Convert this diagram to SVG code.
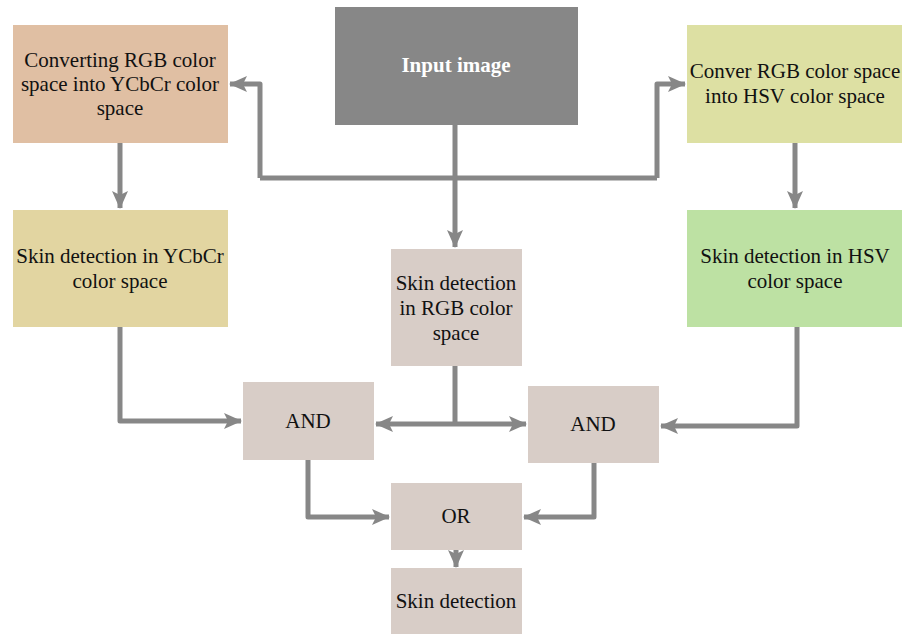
<svg xmlns="http://www.w3.org/2000/svg" width="913" height="634" viewBox="0 0 913 634">
<style>
.t{font-family:'Liberation Serif','Times New Roman','DejaVu Serif',serif;font-size:21px;fill:#111;text-anchor:middle}
.w{fill:#fff;font-weight:bold}
.c{fill:none;stroke:#878787;stroke-width:5;stroke-linejoin:round}
.g{fill:#d8cdc7}
</style>
<defs>
<marker id="a" markerUnits="userSpaceOnUse" markerWidth="18" markerHeight="16" refX="17" refY="8" orient="auto">
<path d="M0,0 L18,8 L0,16 L4,8 Z" fill="#878787"/>
</marker>
</defs>
<rect width="913" height="634" fill="#fff"/>
<g id="connectors">
<path class="c" d="M455,125 V178 M260,178 H657"/>
<path class="c" d="M260,178 V84 H230" marker-end="url(#a)"/>
<path class="c" d="M657,178 V84 H685" marker-end="url(#a)"/>
<path class="c" d="M455,178 V247" marker-end="url(#a)"/>
<path class="c" d="M120,143 V208" marker-end="url(#a)"/>
<path class="c" d="M795,143 V208" marker-end="url(#a)"/>
<path class="c" d="M120,327 V421 H241" marker-end="url(#a)"/>
<path class="c" d="M455,366 V424 M455,424 H376" marker-end="url(#a)"/>
<path class="c" d="M455,424 H526" marker-end="url(#a)"/>
<path class="c" d="M797,327 V426 H661" marker-end="url(#a)"/>
<path class="c" d="M308,460 V517 H389" marker-end="url(#a)"/>
<path class="c" d="M594,463 V517 H524" marker-end="url(#a)"/>
<path class="c" d="M456,550 V567" marker-end="url(#a)"/>
</g>
<g id="n_input"><rect x="335" y="7" width="243" height="118" fill="#878787"/><text class="t w" x="456" y="72">Input image</text></g>
<g id="n_ycbcr_conv"><rect x="13" y="25" width="215" height="118" fill="#e0bfa3"/><text class="t" x="120" y="67">Converting RGB color</text><text class="t" x="120" y="91">space into YCbCr color</text><text class="t" x="120" y="115">space</text></g>
<g id="n_hsv_conv"><rect x="687" y="25" width="215" height="118" fill="#dde0a3"/><text class="t" x="795" y="78">Conver RGB color space</text><text class="t" x="795" y="103">into HSV color space</text></g>
<g id="n_ycbcr_skin"><rect x="13" y="210" width="215" height="117" fill="#e2d5a1"/><text class="t" x="120" y="263">Skin detection in YCbCr</text><text class="t" x="120" y="288">color space</text></g>
<g id="n_rgb_skin"><rect x="391" y="249" width="131" height="117" class="g"/><text class="t" x="456" y="290">Skin detection</text><text class="t" x="456" y="315">in RGB color</text><text class="t" x="456" y="340">space</text></g>
<g id="n_hsv_skin"><rect x="687" y="210" width="215" height="117" fill="#bde1a3"/><text class="t" x="795" y="263">Skin detection in HSV</text><text class="t" x="795" y="288">color space</text></g>
<g id="n_and1"><rect x="243" y="382" width="131" height="78" class="g"/><text class="t" x="308" y="428">AND</text></g>
<g id="n_and2"><rect x="528" y="386" width="131" height="77" class="g"/><text class="t" x="593" y="431">AND</text></g>
<g id="n_or"><rect x="391" y="483" width="131" height="67" class="g"/><text class="t" x="456" y="523">OR</text></g>
<g id="n_skin"><rect x="391" y="568" width="131" height="66" class="g"/><text class="t" x="456" y="608">Skin detection</text></g>
</svg>
